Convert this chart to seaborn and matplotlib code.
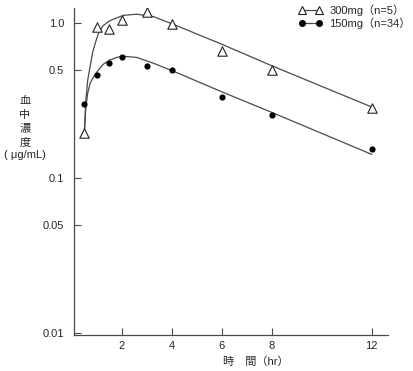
import numpy as np
import seaborn as sns
import matplotlib.pyplot as plt
from matplotlib.lines import Line2D

# measured concentrations (ug/mL) at sampling times (hr)
hours = [0.5, 1, 1.5, 2, 3, 4, 6, 8, 12]
conc_300 = [0.195, 0.94, 0.91, 1.05, 1.17, 0.98, 0.66, 0.50, 0.284]
conc_150 = [0.30, 0.46, 0.55, 0.60, 0.53, 0.50, 0.334, 0.256, 0.154]

# fitted curves
fit_hours = [0.5, 0.56, 0.64, 0.74, 0.84, 0.95, 1.08, 1.25, 1.5, 1.8, 2.06, 2.6, 3.27, 4.1, 6, 8, 10, 12]
fit_300 = [0.19, 0.31, 0.43, 0.53, 0.65, 0.75, 0.87, 0.96, 1.03, 1.08, 1.12, 1.14, 1.10, 0.975, 0.73, 0.53, 0.39, 0.287]
fit_150 = [0.19, 0.28, 0.355, 0.41, 0.44, 0.47, 0.50, 0.54, 0.575, 0.60, 0.61, 0.60, 0.55, 0.486, 0.36, 0.265, 0.194, 0.142]

xticks = [2, 4, 6, 8, 12]
yticks = [0.01, 0.05, 0.1, 0.5, 1.0]
ytick_labels = ["0.01", "0.05", "0.1", "0.5", "1.0"]
labels = ["300mg（n=5）", "150mg（n=34）"]

sns.set_style("ticks")
plt.rcParams["font.family"] = ["Liberation Sans", "Noto Sans CJK JP"]
gray = "#4a4a4a"

fig = plt.figure(figsize=(4.13, 3.71), dpi=100)
ax = fig.add_axes([74 / 413, 36 / 371, 314 / 413, 327 / 371])

sns.lineplot(x=fit_hours, y=fit_300, color=gray, lw=0.9, sort=False, estimator=None, ax=ax)
sns.lineplot(x=fit_hours, y=fit_150, color=gray, lw=0.9, sort=False, estimator=None, ax=ax)
sns.scatterplot(x=hours, y=conc_300, marker="^", s=46, facecolor="white",
                edgecolor="#222222", linewidth=0.8, zorder=3, ax=ax)
sns.scatterplot(x=hours, y=conc_150, marker="o", s=20, color="black",
                edgecolor="black", linewidth=0, zorder=3, ax=ax)

ax.set_yscale("log")
ax.set_xlim(0.09, 12.65)
ax.set_ylim(0.0097, 1.25)
ax.set_xticks(xticks)
ax.set_yticks(yticks)
ax.set_yticklabels(ytick_labels)
ax.minorticks_off()
ax.tick_params(direction="in", length=5, width=0.8, color=gray, labelsize=8)
ax.tick_params(axis="y", pad=7)
ax.tick_params(axis="x", pad=4)
for side in ["left", "bottom"]:
    ax.spines[side].set_color(gray)
    ax.spines[side].set_linewidth(0.9)
sns.despine(ax=ax)

# vertical y label, one glyph per row
ylabel_rows = ["血", "中", "濃", "度", "( μg/mL)"]
for i, row in enumerate(ylabel_rows):
    fig.text(25 / 413, 1 - (101.5 + 13.4 * i) / 371, row, ha="center", va="center", fontsize=8)
fig.text(256 / 413, 1 - 362 / 371, "時　間（hr）", ha="center", va="center", fontsize=8)

handles = [
    Line2D([], [], color=gray, lw=0.9, marker="^", ms=6, mfc="white", mec="#222222", mew=0.8),
    Line2D([], [], color=gray, lw=0.9, marker="o", ms=4, mfc="black", mec="black"),
]
fig.legend(handles, labels, loc="upper right", bbox_to_anchor=(1.019, 1.014), frameon=False,
           numpoints=2, fontsize=8, handlelength=2.2, handletextpad=0.6, labelspacing=0.12)

fig.savefig("out.png", dpi=100)
